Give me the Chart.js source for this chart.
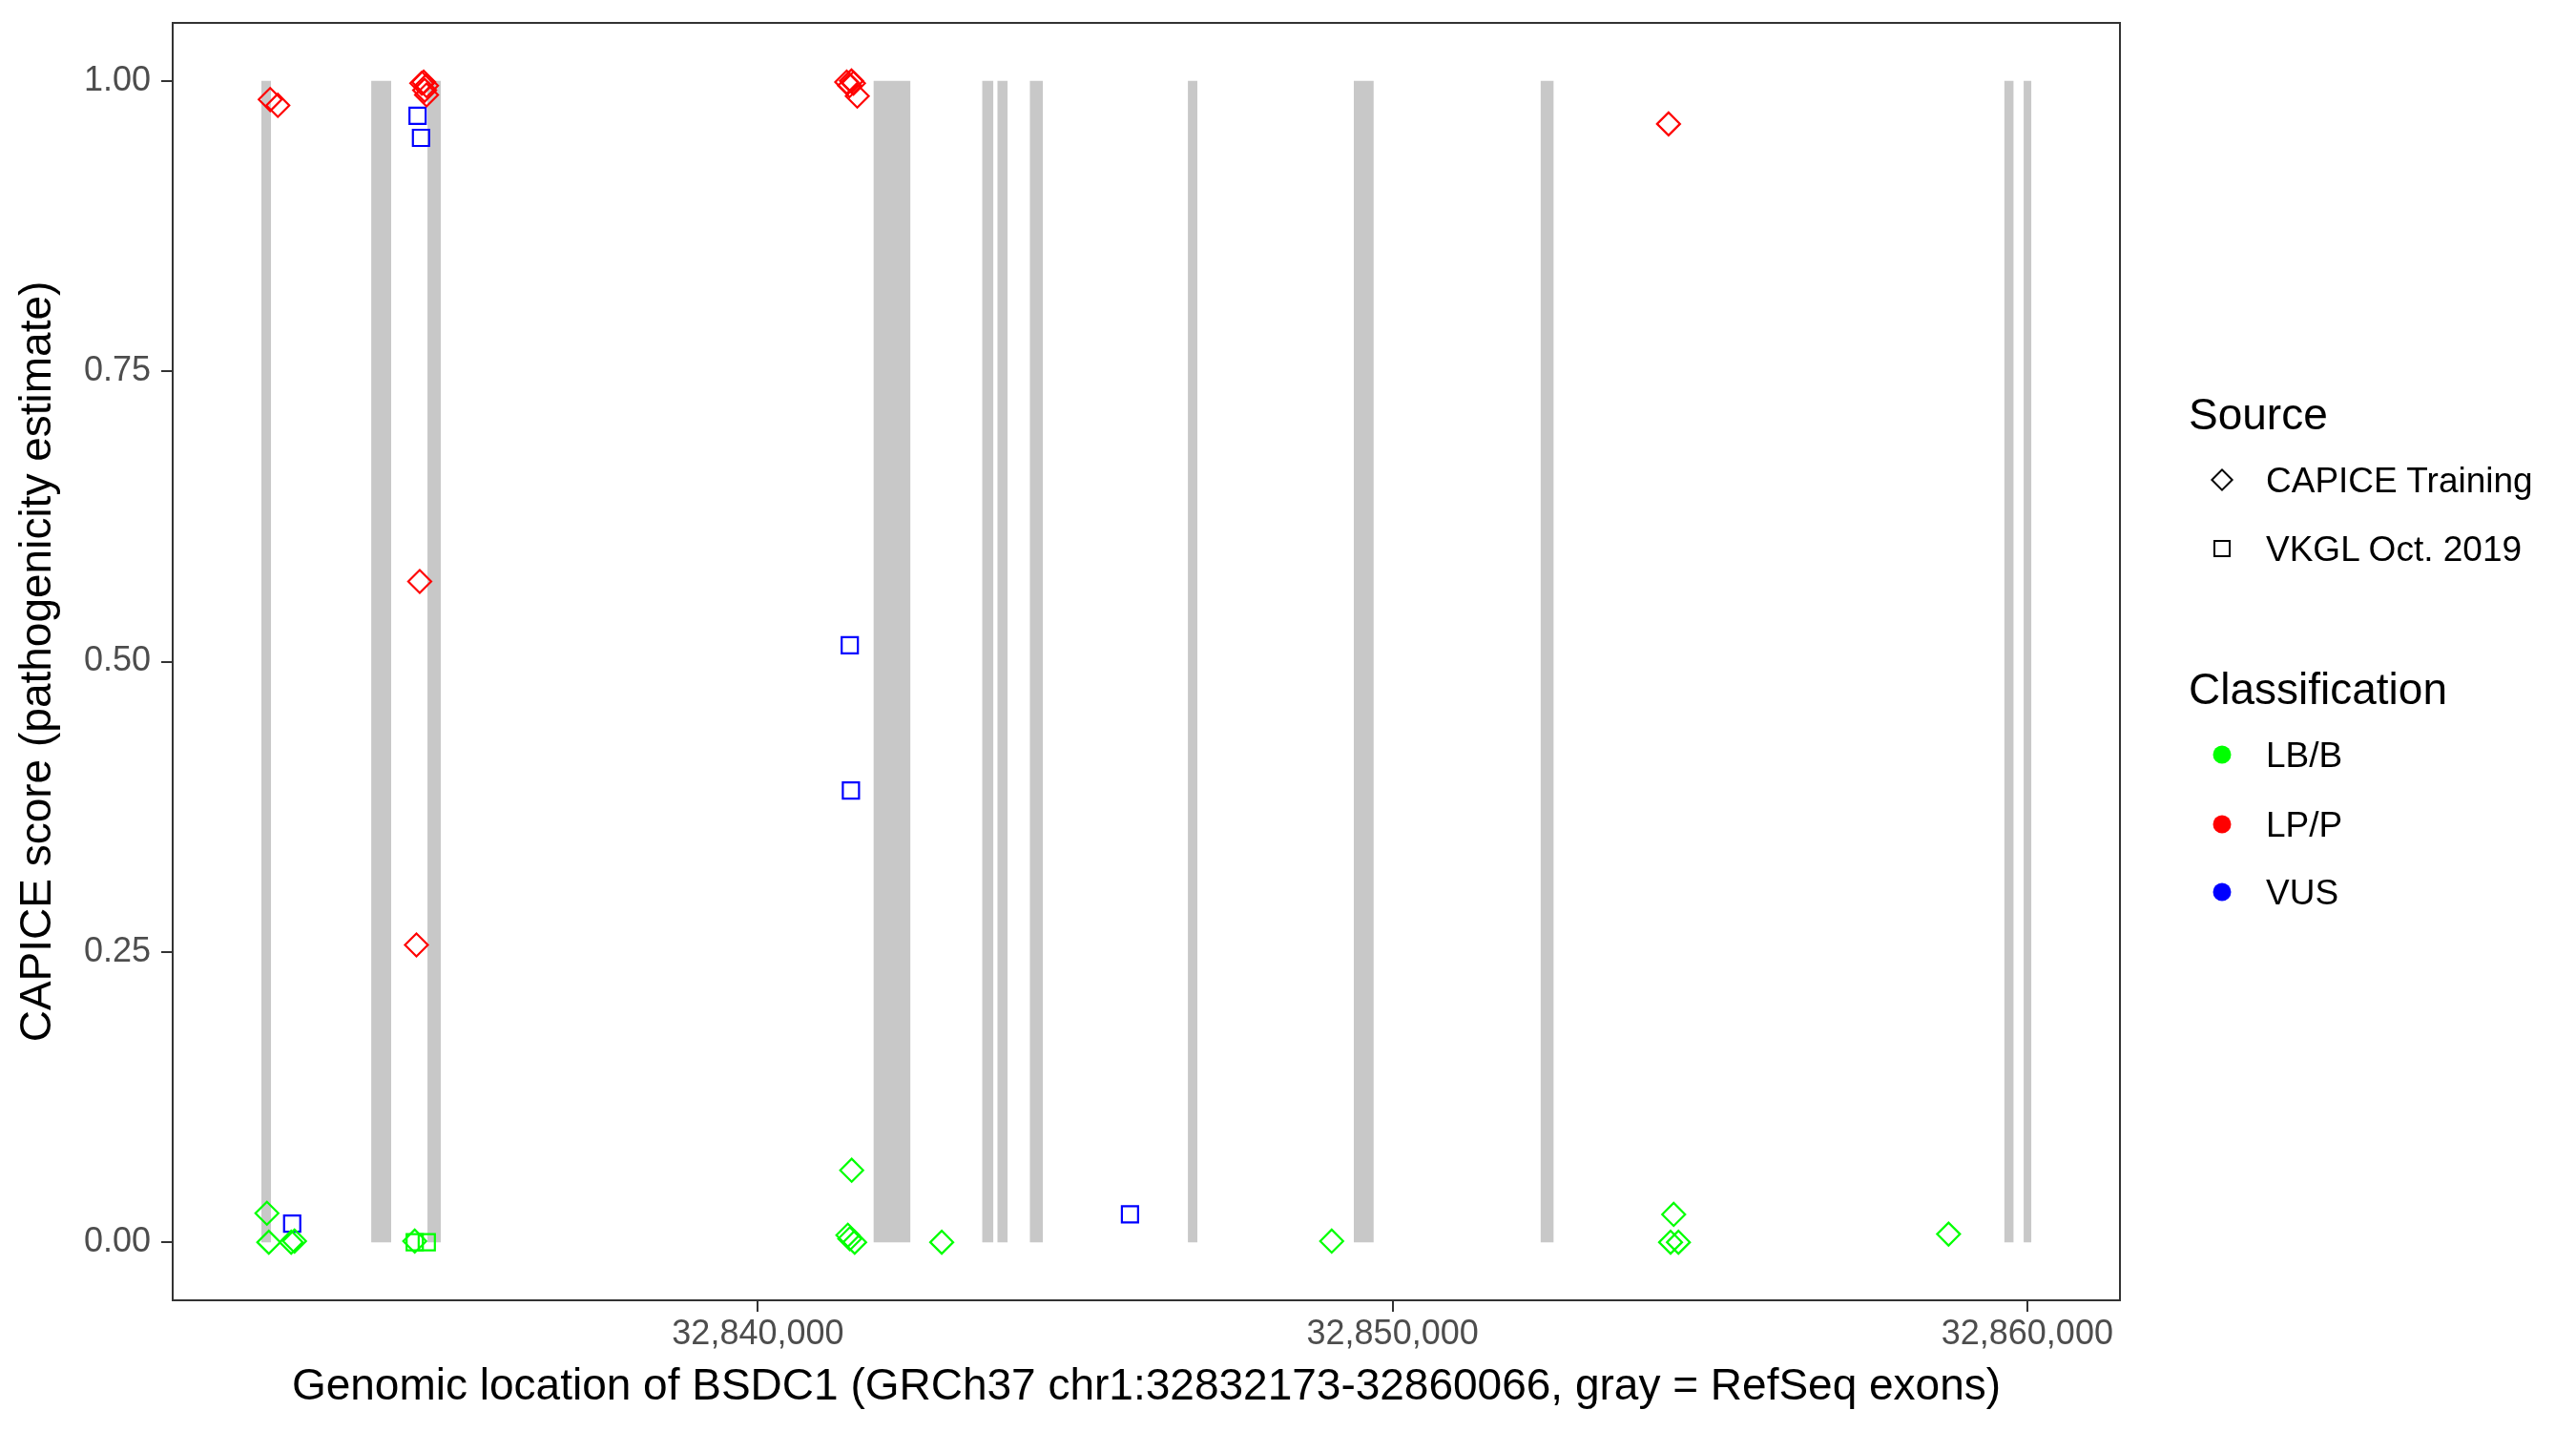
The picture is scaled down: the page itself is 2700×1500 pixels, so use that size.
<!DOCTYPE html>
<html>
<head>
<meta charset="utf-8">
<title>BSDC1 CAPICE scores</title>
<script src="https://cdn.jsdelivr.net/npm/chart.js@4.4.0/dist/chart.umd.min.js"></script>
<style>
  body { margin: 0; background: #fff; }
  #wrap { position: relative; width: 2700px; height: 1500px; font-family: "Liberation Sans", Arial, Helvetica, sans-serif; }
  #chart { position: absolute; left: 0; top: 0; }
  .lg { position: absolute; line-height: 1; white-space: nowrap; color: #000; transform: translateY(-50%); }
  .lg-title { font-size: 46px; }
  .lg-text { font-size: 37px; }
  .key { position: absolute; box-sizing: border-box; transform: translate(-50%, -50%); }
  .key-diamond { width: 17px; height: 17px; border: 2px solid #000; transform: translate(-50%, -50%) rotate(45deg); }
  .key-square { width: 18px; height: 18px; border: 2px solid #000; }
  .key-dot { width: 19px; height: 19px; border-radius: 50%; }
</style>
</head>
<body>
<div id="wrap">
  <canvas id="chart" width="2700" height="1500"></canvas>
  <div id="legend"></div>
</div>
<script>
// gene region (GRCh37 chr1)
var geneStart = 32832173;
var geneEnd = 32860066;

// RefSeq exons (gray bands)
var exonStarts = [32832173, 32833907, 32834793, 32841819, 32843531, 32843771, 32844282, 32846775, 32849387, 32852330, 32859636, 32859943];
var exonEnds   = [32832330, 32834222, 32835003, 32842405, 32843711, 32843936, 32844492, 32846925, 32849703, 32852540, 32859787, 32860066];

// CAPICE Training, LB/B
var capiceBenignPos   = [32832263, 32832293, 32832646, 32832698, 32834592, 32841417, 32841447, 32841524, 32841477, 32842896, 32849040, 32854380, 32854429, 32854504, 32858760];
var capiceBenignScore = [0.025, 0.000, 0.000, 0.001, 0.001, 0.006, 0.003, 0.000, 0.062, 0.000, 0.001, 0.000, 0.024, 0.000, 0.007];

// CAPICE Training, LP/P
var capicePathoPos   = [32832315, 32832435, 32834703, 32834733, 32834778, 32834748, 32834778, 32834671, 32834619, 32841399, 32841474, 32841444, 32841505, 32841565, 32854348];
var capicePathoScore = [0.984, 0.979, 0.998, 0.999, 0.996, 0.992, 0.988, 0.569, 0.256, 0.999, 1.000, 0.996, 0.998, 0.987, 0.963];

// VKGL Oct. 2019, LB/B
var vkglBenignPos   = [32834592, 32834782];
var vkglBenignScore = [0.000, 0.000];

// VKGL Oct. 2019, VUS
var vkglVusPos   = [32832661, 32834637, 32834691, 32841447, 32841465, 32845862];
var vkglVusScore = [0.016, 0.970, 0.951, 0.514, 0.389, 0.024];

var xTicks = [32840000, 32850000, 32860000];
var yTicks = [0, 0.25, 0.5, 0.75, 1];

var colLB = '#00FF00', colLP = '#FF0000', colVUS = '#0000FF';

function toPoints(xs, ys) {
    var pts = [];
    for (var i = 0; i < xs.length; i++) {
        pts.push({ x: xs[i], y: ys[i] });
    }
    return pts;
}

// exons as filled line segments down to 0, broken by gaps
function exonPoints() {
    var pts = [];
    for (var i = 0; i < exonStarts.length; i++) {
        pts.push({ x: exonStarts[i], y: 1 });
        pts.push({ x: exonEnds[i], y: 1 });
        pts.push({ x: exonEnds[i] + 1, y: null });
    }
    return pts;
}

function pointSet(label, xs, ys, color, shape) {
    return {
        label: label,
        data: toPoints(xs, ys),
        pointStyle: shape,
        pointRadius: 12,
        pointBorderWidth: 2.2,
        borderColor: color,
        backgroundColor: 'rgba(0,0,0,0)',
        order: 1
    };
}

var span = geneEnd - geneStart;
var xMin = geneStart - 0.05 * span;
var xMax = geneEnd + 0.05 * span;

var boxPlugin = {
    id: 'panelBox',
    afterDraw: function (chart) {
        var a = chart.chartArea, ctx = chart.ctx;
        ctx.save();
        ctx.strokeStyle = '#333333';
        ctx.lineWidth = 2;
        ctx.strokeRect(a.left, a.top, a.right - a.left, a.bottom - a.top);
        ctx.restore();
    }
};

var fontFamily = '"Liberation Sans", Arial, Helvetica, sans-serif';

new Chart(document.getElementById('chart').getContext('2d'), {
    type: 'scatter',
    data: {
        datasets: [
            {
                type: 'line',
                label: 'exons',
                data: exonPoints(),
                borderWidth: 0,
                borderColor: 'rgba(0,0,0,0)',
                backgroundColor: '#C8C8C8',
                pointRadius: 0,
                fill: 'origin',
                spanGaps: false,
                tension: 0,
                order: 10
            },
            pointSet('CAPICE LB/B', capiceBenignPos, capiceBenignScore, colLB, 'rectRot'),
            pointSet('CAPICE LP/P', capicePathoPos, capicePathoScore, colLP, 'rectRot'),
            pointSet('VKGL LB/B', vkglBenignPos, vkglBenignScore, colLB, 'rect'),
            pointSet('VKGL VUS', vkglVusPos, vkglVusScore, colVUS, 'rect')
        ]
    },
    options: {
        responsive: false,
        animation: false,
        devicePixelRatio: 1,
        events: [],
        layout: { padding: { left: 0, top: 24, right: 478, bottom: 0 } },
        plugins: {
            legend: { display: false },
            tooltip: { enabled: false }
        },
        scales: {
            x: {
                type: 'linear',
                min: xMin,
                max: xMax,
                afterBuildTicks: function (s) { s.ticks = xTicks.map(function (v) { return { value: v }; }); },
                afterFit: function (s) { s.height = 137; },
                grid: { display: true, drawOnChartArea: false, drawTicks: true, tickLength: 12, color: '#333333', lineWidth: 2 },
                border: { display: true, color: '#333333', width: 2 },
                ticks: {
                    autoSkip: false, maxRotation: 0, padding: 2,
                    color: '#4D4D4D',
                    font: { family: fontFamily, size: 36 },
                    callback: function (v) { return Number(v).toLocaleString('en-US'); }
                },
                title: {
                    display: true,
                    text: 'Genomic location of BSDC1 (GRCh37 chr1:32832173-32860066, gray = RefSeq exons)',
                    color: '#000000',
                    font: { family: fontFamily, size: 46 },
                    padding: { top: 0, bottom: 18 }
                }
            },
            y: {
                type: 'linear',
                min: -0.05,
                max: 1.05,
                afterBuildTicks: function (s) { s.ticks = yTicks.map(function (v) { return { value: v }; }); },
                afterFit: function (s) {
                    s.width = 181;
                    // tick labels sit well inside the range, no extra room needed
                    s.paddingTop = 0;
                    s.paddingBottom = 0;
                },
                grid: { display: true, drawOnChartArea: false, drawTicks: true, tickLength: 12, color: '#333333', lineWidth: 2 },
                border: { display: true, color: '#333333', width: 2 },
                ticks: {
                    autoSkip: false, padding: 11,
                    color: '#4D4D4D',
                    font: { family: fontFamily, size: 36 },
                    callback: function (v) { return Number(v).toFixed(2); }
                },
                title: {
                    display: true,
                    text: 'CAPICE score (pathogenicity estimate)',
                    color: '#000000',
                    font: { family: fontFamily, size: 46 },
                    padding: { top: 13, bottom: 0 }
                }
            }
        }
    },
    plugins: [boxPlugin]
});

// legend (two groups, as in the original)
var legendItems = [
    { kind: 'title', text: 'Source', y: 434 },
    { kind: 'item', text: 'CAPICE Training', y: 503, key: 'key-diamond', color: null },
    { kind: 'item', text: 'VKGL Oct. 2019', y: 575, key: 'key-square', color: null },
    { kind: 'title', text: 'Classification', y: 722 },
    { kind: 'item', text: 'LB/B', y: 791, key: 'key-dot', color: colLB },
    { kind: 'item', text: 'LP/P', y: 864, key: 'key-dot', color: colLP },
    { kind: 'item', text: 'VUS', y: 935, key: 'key-dot', color: colVUS }
];

var legend = document.getElementById('legend');
legendItems.forEach(function (it) {
    var t = document.createElement('div');
    t.className = 'lg ' + (it.kind === 'title' ? 'lg-title' : 'lg-text');
    t.textContent = it.text;
    t.style.left = (it.kind === 'title' ? 2294 : 2375) + 'px';
    t.style.top = it.y + 'px';
    legend.appendChild(t);
    if (it.kind === 'item') {
        var k = document.createElement('div');
        k.className = 'key ' + it.key;
        k.style.left = '2329px';
        k.style.top = it.y + 'px';
        if (it.color) k.style.background = it.color;
        legend.appendChild(k);
    }
});
</script>
</body>
</html>
